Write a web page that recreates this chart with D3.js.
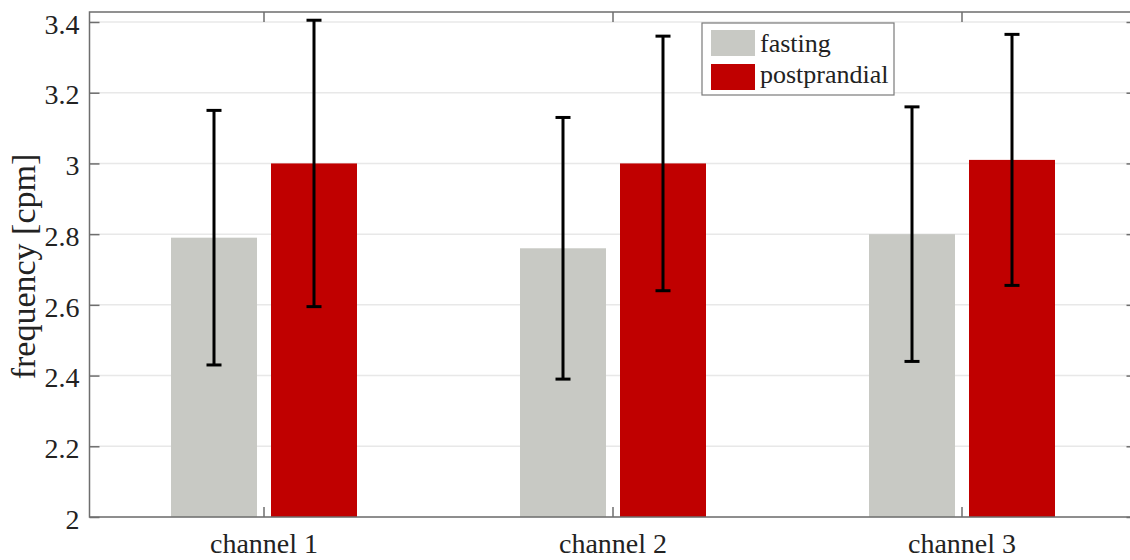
<!DOCTYPE html>
<html lang="en">
<head>
    <meta charset="UTF-8">
    <script src="https://cdn.jsdelivr.net/npm/d3@7"></script>
    <title>frequency per channel</title>
    <style>
        body {
            margin: 0;
            background: #ffffff;
        }
    </style>
</head>
<body>
    <div id="chart"></div>
    <script>
        const width = 1130;
        const height = 560;
        const serif = "'Liberation Serif', 'Times New Roman', serif";

        // data
        const channels = ["channel 1", "channel 2", "channel 3"];
        const fasting = [2.79, 2.76, 2.80];
        const fastingErr = [0.36, 0.37, 0.36];
        const postprandial = [3.00, 3.00, 3.01];
        const postprandialErr = [0.405, 0.36, 0.355];
        const yTicks = [2, 2.2, 2.4, 2.6, 2.8, 3, 3.2, 3.4];
        const seriesNames = ["fasting", "postprandial"];
        const colors = ["#c8c9c4", "#c00000"];

        // plot box (right edge runs past the window)
        const plotLeft = 89.5, plotRight = 1136.5, plotTop = 12, plotBottom = 517;

        const svg = d3.select("#chart").append("svg")
            .attr("width", width)
            .attr("height", height)
            .attr("font-family", serif);

        const x = d3.scaleBand()
            .domain(channels)
            .range([plotLeft, plotRight])
            .padding(0);

        const y = d3.scaleLinear()
            .domain([2, 3.4])
            .range([plotBottom, 22]);

        const barW = 86;
        const offsets = [-50, 50];
        const center = c => x(c) + x.bandwidth() / 2;

        // grid lines
        svg.append("g")
            .selectAll("line")
            .data(yTicks)
            .enter()
            .append("line")
            .attr("x1", plotLeft)
            .attr("x2", plotRight)
            .attr("y1", d => y(d))
            .attr("y2", d => y(d))
            .attr("stroke", "#e8e8e8")
            .attr("stroke-width", 1.5);

        // bars
        const series = [
            { vals: fasting, errs: fastingErr },
            { vals: postprandial, errs: postprandialErr }
        ];

        series.forEach((s, i) => {
            svg.append("g")
                .selectAll("rect")
                .data(channels)
                .enter()
                .append("rect")
                .attr("x", c => center(c) + offsets[i] - barW / 2)
                .attr("width", barW)
                .attr("y", (c, j) => y(s.vals[j]))
                .attr("height", (c, j) => y(2) - y(s.vals[j]))
                .attr("fill", colors[i]);
        });

        // error bars
        series.forEach((s, i) => {
            const g = svg.append("g")
                .attr("stroke", "#000")
                .attr("stroke-width", 3);
            channels.forEach((c, j) => {
                const cx = center(c) + offsets[i];
                const hi = y(s.vals[j] + s.errs[j]);
                const lo = y(s.vals[j] - s.errs[j]);
                g.append("line").attr("x1", cx).attr("x2", cx).attr("y1", hi).attr("y2", lo);
                g.append("line").attr("x1", cx - 7.5).attr("x2", cx + 7.5).attr("y1", hi).attr("y2", hi);
                g.append("line").attr("x1", cx - 7.5).attr("x2", cx + 7.5).attr("y1", lo).attr("y2", lo);
            });
        });

        // axes box
        const axisColor = "#6e6e6e";
        svg.append("rect")
            .attr("x", plotLeft)
            .attr("y", plotTop)
            .attr("width", plotRight - plotLeft)
            .attr("height", plotBottom - plotTop)
            .attr("fill", "none")
            .attr("stroke", axisColor)
            .attr("stroke-width", 1.5);

        // y ticks, left and right, pointing inward
        const gy = svg.append("g")
            .attr("transform", `translate(${plotLeft},0)`)
            .call(d3.axisLeft(y).tickValues(yTicks).tickSize(-10).tickPadding(10)
                .tickFormat(d3.format("~g")))
            .attr("font-family", serif)
            .attr("font-size", 28);
        gy.select(".domain").remove();
        gy.selectAll(".tick line").attr("stroke", axisColor).attr("stroke-width", 1.5);
        gy.selectAll(".tick text")
            .attr("dy", "0.4em")
            .attr("fill", "#222");

        const gyR = svg.append("g")
            .attr("transform", `translate(${plotRight},0)`)
            .call(d3.axisRight(y).tickValues(yTicks).tickSize(-10).tickFormat(""));
        gyR.select(".domain").remove();
        gyR.selectAll(".tick line").attr("stroke", axisColor).attr("stroke-width", 1.5);

        // x ticks, bottom and top
        const gx = svg.append("g")
            .attr("transform", `translate(0,${plotBottom})`)
            .call(d3.axisBottom(x).tickSize(-10).tickPadding(16))
            .attr("font-family", serif)
            .attr("font-size", 28);
        gx.select(".domain").remove();
        gx.selectAll(".tick line").attr("stroke", axisColor).attr("stroke-width", 1.5);
        gx.selectAll(".tick text").attr("fill", "#222");

        const gxT = svg.append("g")
            .attr("transform", `translate(0,${plotTop})`)
            .call(d3.axisTop(x).tickSize(-10).tickFormat(""));
        gxT.select(".domain").remove();
        gxT.selectAll(".tick line").attr("stroke", axisColor).attr("stroke-width", 1.5);

        // y label
        svg.append("text")
            .attr("transform", `translate(35,${(plotTop + plotBottom) / 2 + 2}) rotate(-90)`)
            .attr("text-anchor", "middle")
            .attr("font-size", 34)
            .attr("fill", "#222")
            .text("frequency [cpm]");

        // legend
        const legend = svg.append("g");
        legend.append("rect")
            .attr("x", 702)
            .attr("y", 23)
            .attr("width", 192)
            .attr("height", 72)
            .attr("fill", "#fff")
            .attr("stroke", "#7a7a7a")
            .attr("stroke-width", 1.2);

        seriesNames.forEach((name, i) => {
            legend.append("rect")
                .attr("x", 711)
                .attr("y", 30 + i * 34)
                .attr("width", 44)
                .attr("height", 26)
                .attr("fill", colors[i]);
            legend.append("text")
                .attr("x", 760)
                .attr("y", 52 + i * 31)
                .attr("font-size", 26)
                .attr("fill", "#222")
                .text(name);
        });
    </script>
</body>
</html>
